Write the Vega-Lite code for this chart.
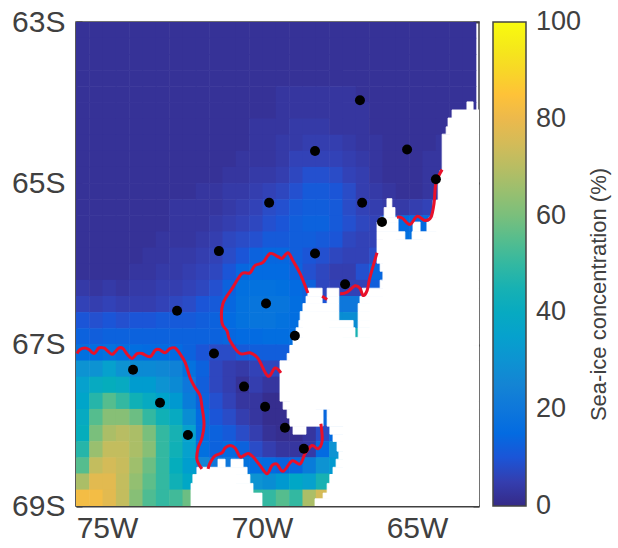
{"$schema":"https://vega.github.io/schema/vega-lite/v6.json","width":403,"height":484,"autosize":"none","padding":{"left":76,"top":22,"right":139,"bottom":42},"background":"white",
"config":{"font":"Liberation Sans","view":{"stroke":"#444444","strokeWidth":1.5},"axis":{"grid":false,"labelFont":"Liberation Sans","labelFontSize":30,"labelColor":"#404040","tickColor":"#404040","domainColor":"#404040","domainWidth":2,"tickWidth":2,"zindex":1}},
"resolve":{"axis":{"x":"independent","y":"independent"},"scale":{"x":"shared","y":"shared"}},
"layer":[
{"data":{"values":[
{"x":-75.78,"y":-63.1,"v":2},{"x":-75.35,"y":-63.1,"v":2},{"x":-74.92,"y":-63.1,"v":2},{"x":-74.49,"y":-63.1,"v":2},{"x":-74.06,"y":-63.1,"v":2},{"x":-73.63,"y":-63.1,"v":2},{"x":-73.2,"y":-63.1,"v":2},{"x":-72.77,"y":-63.1,"v":2},{"x":-72.34,"y":-63.1,"v":2},{"x":-71.91,"y":-63.1,"v":2},{"x":-71.48,"y":-63.1,"v":2},{"x":-71.05,"y":-63.1,"v":2},{"x":-70.62,"y":-63.1,"v":2},{"x":-70.19,"y":-63.1,"v":2},{"x":-69.76,"y":-63.1,"v":2},{"x":-69.33,"y":-63.1,"v":2},{"x":-68.9,"y":-63.1,"v":2},{"x":-68.47,"y":-63.1,"v":2},{"x":-68.04,"y":-63.1,"v":2},{"x":-67.61,"y":-63.1,"v":2},{"x":-67.18,"y":-63.1,"v":2},{"x":-66.75,"y":-63.1,"v":2},{"x":-66.32,"y":-63.1,"v":2},{"x":-65.89,"y":-63.1,"v":2},{"x":-65.46,"y":-63.1,"v":2},{"x":-65.03,"y":-63.1,"v":2},{"x":-64.6,"y":-63.1,"v":2},{"x":-64.17,"y":-63.1,"v":2},{"x":-63.74,"y":-63.1,"v":2},{"x":-63.31,"y":-63.1,"v":2},
{"x":-75.78,"y":-63.3,"v":2},{"x":-75.35,"y":-63.3,"v":2},{"x":-74.92,"y":-63.3,"v":2},{"x":-74.49,"y":-63.3,"v":2},{"x":-74.06,"y":-63.3,"v":2},{"x":-73.63,"y":-63.3,"v":2},{"x":-73.2,"y":-63.3,"v":2},{"x":-72.77,"y":-63.3,"v":2},{"x":-72.34,"y":-63.3,"v":2},{"x":-71.91,"y":-63.3,"v":2},{"x":-71.48,"y":-63.3,"v":2},{"x":-71.05,"y":-63.3,"v":2},{"x":-70.62,"y":-63.3,"v":2},{"x":-70.19,"y":-63.3,"v":2},{"x":-69.76,"y":-63.3,"v":2},{"x":-69.33,"y":-63.3,"v":2},{"x":-68.9,"y":-63.3,"v":2},{"x":-68.47,"y":-63.3,"v":2},{"x":-68.04,"y":-63.3,"v":2},{"x":-67.61,"y":-63.3,"v":2},{"x":-67.18,"y":-63.3,"v":2},{"x":-66.75,"y":-63.3,"v":2},{"x":-66.32,"y":-63.3,"v":2},{"x":-65.89,"y":-63.3,"v":2},{"x":-65.46,"y":-63.3,"v":2},{"x":-65.03,"y":-63.3,"v":2},{"x":-64.6,"y":-63.3,"v":2},{"x":-64.17,"y":-63.3,"v":2},{"x":-63.74,"y":-63.3,"v":2},{"x":-63.31,"y":-63.3,"v":2},
{"x":-75.78,"y":-63.5,"v":2},{"x":-75.35,"y":-63.5,"v":2},{"x":-74.92,"y":-63.5,"v":2},{"x":-74.49,"y":-63.5,"v":2},{"x":-74.06,"y":-63.5,"v":2},{"x":-73.63,"y":-63.5,"v":2},{"x":-73.2,"y":-63.5,"v":2},{"x":-72.77,"y":-63.5,"v":2},{"x":-72.34,"y":-63.5,"v":2},{"x":-71.91,"y":-63.5,"v":2},{"x":-71.48,"y":-63.5,"v":2},{"x":-71.05,"y":-63.5,"v":2},{"x":-70.62,"y":-63.5,"v":2},{"x":-70.19,"y":-63.5,"v":2},{"x":-69.76,"y":-63.5,"v":2},{"x":-69.33,"y":-63.5,"v":2},{"x":-68.9,"y":-63.5,"v":2},{"x":-68.47,"y":-63.5,"v":2},{"x":-68.04,"y":-63.5,"v":2},{"x":-67.61,"y":-63.5,"v":2},{"x":-67.18,"y":-63.5,"v":2},{"x":-66.75,"y":-63.5,"v":2},{"x":-66.32,"y":-63.5,"v":2},{"x":-65.89,"y":-63.5,"v":2},{"x":-65.46,"y":-63.5,"v":2},{"x":-65.03,"y":-63.5,"v":2},{"x":-64.6,"y":-63.5,"v":2},{"x":-64.17,"y":-63.5,"v":2},{"x":-63.74,"y":-63.5,"v":2},{"x":-63.31,"y":-63.5,"v":2},
{"x":-75.78,"y":-63.7,"v":2},{"x":-75.35,"y":-63.7,"v":2},{"x":-74.92,"y":-63.7,"v":2},{"x":-74.49,"y":-63.7,"v":2},{"x":-74.06,"y":-63.7,"v":2},{"x":-73.63,"y":-63.7,"v":2},{"x":-73.2,"y":-63.7,"v":2},{"x":-72.77,"y":-63.7,"v":2},{"x":-72.34,"y":-63.7,"v":2},{"x":-71.91,"y":-63.7,"v":2},{"x":-71.48,"y":-63.7,"v":2},{"x":-71.05,"y":-63.7,"v":2},{"x":-70.62,"y":-63.7,"v":2},{"x":-70.19,"y":-63.7,"v":2},{"x":-69.76,"y":-63.7,"v":2},{"x":-69.33,"y":-63.7,"v":2},{"x":-68.9,"y":-63.7,"v":2},{"x":-68.47,"y":-63.7,"v":2},{"x":-68.04,"y":-63.7,"v":2},{"x":-67.61,"y":-63.7,"v":2},{"x":-67.18,"y":-63.7,"v":2},{"x":-66.75,"y":-63.7,"v":2},{"x":-66.32,"y":-63.7,"v":2},{"x":-65.89,"y":-63.7,"v":2},{"x":-65.46,"y":-63.7,"v":2},{"x":-65.03,"y":-63.7,"v":2},{"x":-64.6,"y":-63.7,"v":2},{"x":-64.17,"y":-63.7,"v":2},{"x":-63.74,"y":-63.7,"v":2},{"x":-63.31,"y":-63.7,"v":2},
{"x":-75.78,"y":-63.9,"v":2},{"x":-75.35,"y":-63.9,"v":2},{"x":-74.92,"y":-63.9,"v":2},{"x":-74.49,"y":-63.9,"v":2},{"x":-74.06,"y":-63.9,"v":2},{"x":-73.63,"y":-63.9,"v":2},{"x":-73.2,"y":-63.9,"v":2},{"x":-72.77,"y":-63.9,"v":2},{"x":-72.34,"y":-63.9,"v":2},{"x":-71.91,"y":-63.9,"v":2},{"x":-71.48,"y":-63.9,"v":2},{"x":-71.05,"y":-63.9,"v":2},{"x":-70.62,"y":-63.9,"v":2},{"x":-70.19,"y":-63.9,"v":2},{"x":-69.76,"y":-63.9,"v":2},{"x":-69.33,"y":-63.9,"v":3},{"x":-68.9,"y":-63.9,"v":3},{"x":-68.47,"y":-63.9,"v":3},{"x":-68.04,"y":-63.9,"v":3},{"x":-67.61,"y":-63.9,"v":3},{"x":-67.18,"y":-63.9,"v":3},{"x":-66.75,"y":-63.9,"v":2},{"x":-66.32,"y":-63.9,"v":2},{"x":-65.89,"y":-63.9,"v":2},{"x":-65.46,"y":-63.9,"v":2},{"x":-65.03,"y":-63.9,"v":2},{"x":-64.6,"y":-63.9,"v":2},{"x":-64.17,"y":-63.9,"v":2},{"x":-63.74,"y":-63.9,"v":2},{"x":-63.31,"y":-63.9,"v":2},
{"x":-75.78,"y":-64.1,"v":2},{"x":-75.35,"y":-64.1,"v":2},{"x":-74.92,"y":-64.1,"v":2},{"x":-74.49,"y":-64.1,"v":2},{"x":-74.06,"y":-64.1,"v":2},{"x":-73.63,"y":-64.1,"v":2},{"x":-73.2,"y":-64.1,"v":2},{"x":-72.77,"y":-64.1,"v":2},{"x":-72.34,"y":-64.1,"v":2},{"x":-71.91,"y":-64.1,"v":2},{"x":-71.48,"y":-64.1,"v":2},{"x":-71.05,"y":-64.1,"v":2},{"x":-70.62,"y":-64.1,"v":2},{"x":-70.19,"y":-64.1,"v":2},{"x":-69.76,"y":-64.1,"v":2},{"x":-69.33,"y":-64.1,"v":3},{"x":-68.9,"y":-64.1,"v":3},{"x":-68.47,"y":-64.1,"v":3},{"x":-68.04,"y":-64.1,"v":3},{"x":-67.61,"y":-64.1,"v":3},{"x":-67.18,"y":-64.1,"v":3},{"x":-66.75,"y":-64.1,"v":3},{"x":-66.32,"y":-64.1,"v":2},{"x":-65.89,"y":-64.1,"v":2},{"x":-65.46,"y":-64.1,"v":2},{"x":-65.03,"y":-64.1,"v":2},{"x":-64.6,"y":-64.1,"v":2},{"x":-64.17,"y":-64.1,"v":2},{"x":-63.74,"y":-64.1,"v":2},{"x":-63.31,"y":-64.1,"v":2},
{"x":-75.78,"y":-64.3,"v":2},{"x":-75.35,"y":-64.3,"v":2},{"x":-74.92,"y":-64.3,"v":2},{"x":-74.49,"y":-64.3,"v":2},{"x":-74.06,"y":-64.3,"v":2},{"x":-73.63,"y":-64.3,"v":2},{"x":-73.2,"y":-64.3,"v":2},{"x":-72.77,"y":-64.3,"v":2},{"x":-72.34,"y":-64.3,"v":2},{"x":-71.91,"y":-64.3,"v":2},{"x":-71.48,"y":-64.3,"v":2},{"x":-71.05,"y":-64.3,"v":2},{"x":-70.62,"y":-64.3,"v":2},{"x":-70.19,"y":-64.3,"v":3},{"x":-69.76,"y":-64.3,"v":3},{"x":-69.33,"y":-64.3,"v":3},{"x":-68.9,"y":-64.3,"v":4},{"x":-68.47,"y":-64.3,"v":4},{"x":-68.04,"y":-64.3,"v":4},{"x":-67.61,"y":-64.3,"v":3},{"x":-67.18,"y":-64.3,"v":3},{"x":-66.75,"y":-64.3,"v":3},{"x":-66.32,"y":-64.3,"v":2},{"x":-65.89,"y":-64.3,"v":2},{"x":-65.46,"y":-64.3,"v":2},{"x":-65.03,"y":-64.3,"v":2},{"x":-64.6,"y":-64.3,"v":2},{"x":-64.17,"y":-64.3,"v":2},
{"x":-75.78,"y":-64.5,"v":2},{"x":-75.35,"y":-64.5,"v":2},{"x":-74.92,"y":-64.5,"v":2},{"x":-74.49,"y":-64.5,"v":2},{"x":-74.06,"y":-64.5,"v":2},{"x":-73.63,"y":-64.5,"v":2},{"x":-73.2,"y":-64.5,"v":2},{"x":-72.77,"y":-64.5,"v":2},{"x":-72.34,"y":-64.5,"v":2},{"x":-71.91,"y":-64.5,"v":2},{"x":-71.48,"y":-64.5,"v":2},{"x":-71.05,"y":-64.5,"v":2},{"x":-70.62,"y":-64.5,"v":2},{"x":-70.19,"y":-64.5,"v":3},{"x":-69.76,"y":-64.5,"v":3},{"x":-69.33,"y":-64.5,"v":4},{"x":-68.9,"y":-64.5,"v":4},{"x":-68.47,"y":-64.5,"v":5},{"x":-68.04,"y":-64.5,"v":5},{"x":-67.61,"y":-64.5,"v":5},{"x":-67.18,"y":-64.5,"v":4},{"x":-66.75,"y":-64.5,"v":3},{"x":-66.32,"y":-64.5,"v":3},{"x":-65.89,"y":-64.5,"v":2},{"x":-65.46,"y":-64.5,"v":2},{"x":-65.03,"y":-64.5,"v":2},{"x":-64.6,"y":-64.5,"v":2},{"x":-64.17,"y":-64.5,"v":3},
{"x":-75.78,"y":-64.7,"v":2},{"x":-75.35,"y":-64.7,"v":2},{"x":-74.92,"y":-64.7,"v":2},{"x":-74.49,"y":-64.7,"v":2},{"x":-74.06,"y":-64.7,"v":2},{"x":-73.63,"y":-64.7,"v":2},{"x":-73.2,"y":-64.7,"v":2},{"x":-72.77,"y":-64.7,"v":2},{"x":-72.34,"y":-64.7,"v":2},{"x":-71.91,"y":-64.7,"v":2},{"x":-71.48,"y":-64.7,"v":2},{"x":-71.05,"y":-64.7,"v":2},{"x":-70.62,"y":-64.7,"v":3},{"x":-70.19,"y":-64.7,"v":3},{"x":-69.76,"y":-64.7,"v":3},{"x":-69.33,"y":-64.7,"v":4},{"x":-68.9,"y":-64.7,"v":6},{"x":-68.47,"y":-64.7,"v":6},{"x":-68.04,"y":-64.7,"v":6},{"x":-67.61,"y":-64.7,"v":6},{"x":-67.18,"y":-64.7,"v":5},{"x":-66.75,"y":-64.7,"v":4},{"x":-66.32,"y":-64.7,"v":3},{"x":-65.89,"y":-64.7,"v":2},{"x":-65.46,"y":-64.7,"v":2},{"x":-65.03,"y":-64.7,"v":2},{"x":-64.6,"y":-64.7,"v":3},{"x":-64.17,"y":-64.7,"v":3},
{"x":-75.78,"y":-64.9,"v":2},{"x":-75.35,"y":-64.9,"v":2},{"x":-74.92,"y":-64.9,"v":2},{"x":-74.49,"y":-64.9,"v":2},{"x":-74.06,"y":-64.9,"v":2},{"x":-73.63,"y":-64.9,"v":2},{"x":-73.2,"y":-64.9,"v":2},{"x":-72.77,"y":-64.9,"v":2},{"x":-72.34,"y":-64.9,"v":2},{"x":-71.91,"y":-64.9,"v":2},{"x":-71.48,"y":-64.9,"v":2},{"x":-71.05,"y":-64.9,"v":3},{"x":-70.62,"y":-64.9,"v":3},{"x":-70.19,"y":-64.9,"v":4},{"x":-69.76,"y":-64.9,"v":4},{"x":-69.33,"y":-64.9,"v":5},{"x":-68.9,"y":-64.9,"v":7},{"x":-68.47,"y":-64.9,"v":9},{"x":-68.04,"y":-64.9,"v":9},{"x":-67.61,"y":-64.9,"v":8},{"x":-67.18,"y":-64.9,"v":6},{"x":-66.75,"y":-64.9,"v":5},{"x":-66.32,"y":-64.9,"v":3},{"x":-65.89,"y":-64.9,"v":2},{"x":-65.46,"y":-64.9,"v":2},{"x":-65.03,"y":-64.9,"v":2},{"x":-64.6,"y":-64.9,"v":3},{"x":-64.17,"y":-64.9,"v":3},
{"x":-75.78,"y":-65.1,"v":2},{"x":-75.35,"y":-65.1,"v":2},{"x":-74.92,"y":-65.1,"v":2},{"x":-74.49,"y":-65.1,"v":2},{"x":-74.06,"y":-65.1,"v":2},{"x":-73.63,"y":-65.1,"v":2},{"x":-73.2,"y":-65.1,"v":2},{"x":-72.77,"y":-65.1,"v":2},{"x":-72.34,"y":-65.1,"v":2},{"x":-71.91,"y":-65.1,"v":3},{"x":-71.48,"y":-65.1,"v":3},{"x":-71.05,"y":-65.1,"v":4},{"x":-70.62,"y":-65.1,"v":4},{"x":-70.19,"y":-65.1,"v":5},{"x":-69.76,"y":-65.1,"v":6},{"x":-69.33,"y":-65.1,"v":7},{"x":-68.9,"y":-65.1,"v":9},{"x":-68.47,"y":-65.1,"v":11},{"x":-68.04,"y":-65.1,"v":11},{"x":-67.61,"y":-65.1,"v":10},{"x":-67.18,"y":-65.1,"v":8},{"x":-66.75,"y":-65.1,"v":5},{"x":-66.32,"y":-65.1,"v":4},{"x":-65.89,"y":-65.1,"v":3},{"x":-65.46,"y":-65.1,"v":2},{"x":-65.03,"y":-65.1,"v":2},{"x":-64.6,"y":-65.1,"v":3},{"x":-64.17,"y":-65.1,"v":4},
{"x":-75.78,"y":-65.3,"v":2},{"x":-75.35,"y":-65.3,"v":2},{"x":-74.92,"y":-65.3,"v":2},{"x":-74.49,"y":-65.3,"v":2},{"x":-74.06,"y":-65.3,"v":2},{"x":-73.63,"y":-65.3,"v":2},{"x":-73.2,"y":-65.3,"v":2},{"x":-72.77,"y":-65.3,"v":3},{"x":-72.34,"y":-65.3,"v":3},{"x":-71.91,"y":-65.3,"v":3},{"x":-71.48,"y":-65.3,"v":3},{"x":-71.05,"y":-65.3,"v":4},{"x":-70.62,"y":-65.3,"v":5},{"x":-70.19,"y":-65.3,"v":6},{"x":-69.76,"y":-65.3,"v":8},{"x":-69.33,"y":-65.3,"v":9},{"x":-68.9,"y":-65.3,"v":11},{"x":-68.47,"y":-65.3,"v":12},{"x":-68.04,"y":-65.3,"v":12},{"x":-67.61,"y":-65.3,"v":11},{"x":-67.18,"y":-65.3,"v":8},{"x":-66.75,"y":-65.3,"v":6},{"x":-66.32,"y":-65.3,"v":5},{"x":-65.89,"y":-65.3,"v":4},{"x":-65.46,"y":-65.3,"v":4},{"x":-65.03,"y":-65.3,"v":5},{"x":-64.6,"y":-65.3,"v":6},
{"x":-75.78,"y":-65.5,"v":2},{"x":-75.35,"y":-65.5,"v":2},{"x":-74.92,"y":-65.5,"v":2},{"x":-74.49,"y":-65.5,"v":2},{"x":-74.06,"y":-65.5,"v":2},{"x":-73.63,"y":-65.5,"v":2},{"x":-73.2,"y":-65.5,"v":2},{"x":-72.77,"y":-65.5,"v":3},{"x":-72.34,"y":-65.5,"v":3},{"x":-71.91,"y":-65.5,"v":3},{"x":-71.48,"y":-65.5,"v":4},{"x":-71.05,"y":-65.5,"v":5},{"x":-70.62,"y":-65.5,"v":6},{"x":-70.19,"y":-65.5,"v":7},{"x":-69.76,"y":-65.5,"v":9},{"x":-69.33,"y":-65.5,"v":10},{"x":-68.9,"y":-65.5,"v":12},{"x":-68.47,"y":-65.5,"v":13},{"x":-68.04,"y":-65.5,"v":13},{"x":-67.61,"y":-65.5,"v":11},{"x":-67.18,"y":-65.5,"v":9},{"x":-66.75,"y":-65.5,"v":7},{"x":-66.32,"y":-65.5,"v":6},{"x":-65.89,"y":-65.5,"v":15},{"x":-65.46,"y":-65.5,"v":15},{"x":-65.03,"y":-65.5,"v":15},{"x":-64.6,"y":-65.5,"v":15},
{"x":-75.78,"y":-65.7,"v":2},{"x":-75.35,"y":-65.7,"v":2},{"x":-74.92,"y":-65.7,"v":2},{"x":-74.49,"y":-65.7,"v":2},{"x":-74.06,"y":-65.7,"v":2},{"x":-73.63,"y":-65.7,"v":2},{"x":-73.2,"y":-65.7,"v":3},{"x":-72.77,"y":-65.7,"v":3},{"x":-72.34,"y":-65.7,"v":3},{"x":-71.91,"y":-65.7,"v":4},{"x":-71.48,"y":-65.7,"v":5},{"x":-71.05,"y":-65.7,"v":7},{"x":-70.62,"y":-65.7,"v":8},{"x":-70.19,"y":-65.7,"v":9},{"x":-69.76,"y":-65.7,"v":11},{"x":-69.33,"y":-65.7,"v":11},{"x":-68.9,"y":-65.7,"v":12},{"x":-68.47,"y":-65.7,"v":12},{"x":-68.04,"y":-65.7,"v":11},{"x":-67.61,"y":-65.7,"v":10},{"x":-67.18,"y":-65.7,"v":7},{"x":-66.75,"y":-65.7,"v":6},{"x":-66.32,"y":-65.7,"v":6},{"x":-65.46,"y":-65.7,"v":17},{"x":-65.03,"y":-65.7,"v":17},
{"x":-75.78,"y":-65.9,"v":2},{"x":-75.35,"y":-65.9,"v":2},{"x":-74.92,"y":-65.9,"v":2},{"x":-74.49,"y":-65.9,"v":2},{"x":-74.06,"y":-65.9,"v":2},{"x":-73.63,"y":-65.9,"v":3},{"x":-73.2,"y":-65.9,"v":3},{"x":-72.77,"y":-65.9,"v":4},{"x":-72.34,"y":-65.9,"v":4},{"x":-71.91,"y":-65.9,"v":5},{"x":-71.48,"y":-65.9,"v":6},{"x":-71.05,"y":-65.9,"v":8},{"x":-70.62,"y":-65.9,"v":10},{"x":-70.19,"y":-65.9,"v":13},{"x":-69.76,"y":-65.9,"v":14},{"x":-69.33,"y":-65.9,"v":14},{"x":-68.9,"y":-65.9,"v":12},{"x":-68.47,"y":-65.9,"v":10},{"x":-68.04,"y":-65.9,"v":9},{"x":-67.61,"y":-65.9,"v":7},{"x":-67.18,"y":-65.9,"v":6},{"x":-66.75,"y":-65.9,"v":6},{"x":-66.32,"y":-65.9,"v":8},
{"x":-75.78,"y":-66.1,"v":2},{"x":-75.35,"y":-66.1,"v":2},{"x":-74.92,"y":-66.1,"v":2},{"x":-74.49,"y":-66.1,"v":2},{"x":-74.06,"y":-66.1,"v":3},{"x":-73.63,"y":-66.1,"v":3},{"x":-73.2,"y":-66.1,"v":4},{"x":-72.77,"y":-66.1,"v":4},{"x":-72.34,"y":-66.1,"v":5},{"x":-71.91,"y":-66.1,"v":6},{"x":-71.48,"y":-66.1,"v":7},{"x":-71.05,"y":-66.1,"v":10},{"x":-70.62,"y":-66.1,"v":14},{"x":-70.19,"y":-66.1,"v":15},{"x":-69.76,"y":-66.1,"v":15},{"x":-69.33,"y":-66.1,"v":15},{"x":-68.9,"y":-66.1,"v":13},{"x":-68.47,"y":-66.1,"v":9},{"x":-68.04,"y":-66.1,"v":7},{"x":-67.61,"y":-66.1,"v":5},{"x":-67.18,"y":-66.1,"v":5},{"x":-66.75,"y":-66.1,"v":9},{"x":-66.32,"y":-66.1,"v":14},
{"x":-75.78,"y":-66.3,"v":4},{"x":-75.35,"y":-66.3,"v":3},{"x":-74.92,"y":-66.3,"v":4},{"x":-74.49,"y":-66.3,"v":3},{"x":-74.06,"y":-66.3,"v":4},{"x":-73.63,"y":-66.3,"v":4},{"x":-73.2,"y":-66.3,"v":5},{"x":-72.77,"y":-66.3,"v":5},{"x":-72.34,"y":-66.3,"v":6},{"x":-71.91,"y":-66.3,"v":7},{"x":-71.48,"y":-66.3,"v":9},{"x":-71.05,"y":-66.3,"v":13},{"x":-70.62,"y":-66.3,"v":17},{"x":-70.19,"y":-66.3,"v":18},{"x":-69.76,"y":-66.3,"v":18},{"x":-69.33,"y":-66.3,"v":17},{"x":-68.9,"y":-66.3,"v":15},{"x":-68.47,"y":-66.3,"v":13},{"x":-68.04,"y":-66.3,"v":7},{"x":-67.61,"y":-66.3,"v":6},{"x":-67.18,"y":-66.3,"v":6},{"x":-66.75,"y":-66.3,"v":6},{"x":-66.32,"y":-66.3,"v":12},
{"x":-75.78,"y":-66.5,"v":6},{"x":-75.35,"y":-66.5,"v":5},{"x":-74.92,"y":-66.5,"v":6},{"x":-74.49,"y":-66.5,"v":5},{"x":-74.06,"y":-66.5,"v":5},{"x":-73.63,"y":-66.5,"v":5},{"x":-73.2,"y":-66.5,"v":6},{"x":-72.77,"y":-66.5,"v":7},{"x":-72.34,"y":-66.5,"v":8},{"x":-71.91,"y":-66.5,"v":10},{"x":-71.48,"y":-66.5,"v":11},{"x":-71.05,"y":-66.5,"v":14},{"x":-70.62,"y":-66.5,"v":18},{"x":-70.19,"y":-66.5,"v":19},{"x":-69.76,"y":-66.5,"v":19},{"x":-69.33,"y":-66.5,"v":19},{"x":-68.9,"y":-66.5,"v":16},{"x":-68.47,"y":-66.5,"v":14},{"x":-68.04,"y":-66.5,"v":10},{"x":-67.61,"y":-66.5,"v":20},{"x":-67.18,"y":-66.5,"v":20},{"x":-66.75,"y":-66.5,"v":20},
{"x":-75.78,"y":-66.7,"v":10},{"x":-75.35,"y":-66.7,"v":9},{"x":-74.92,"y":-66.7,"v":10},{"x":-74.49,"y":-66.7,"v":9},{"x":-74.06,"y":-66.7,"v":10},{"x":-73.63,"y":-66.7,"v":10},{"x":-73.2,"y":-66.7,"v":11},{"x":-72.77,"y":-66.7,"v":11},{"x":-72.34,"y":-66.7,"v":11},{"x":-71.91,"y":-66.7,"v":12},{"x":-71.48,"y":-66.7,"v":13},{"x":-71.05,"y":-66.7,"v":15},{"x":-70.62,"y":-66.7,"v":18},{"x":-70.19,"y":-66.7,"v":19},{"x":-69.76,"y":-66.7,"v":19},{"x":-69.33,"y":-66.7,"v":18},{"x":-68.9,"y":-66.7,"v":16},{"x":-67.61,"y":-66.7,"v":28},{"x":-67.18,"y":-66.7,"v":28},{"x":-66.75,"y":-66.7,"v":28},
{"x":-75.78,"y":-66.9,"v":13},{"x":-75.35,"y":-66.9,"v":12},{"x":-74.92,"y":-66.9,"v":13},{"x":-74.49,"y":-66.9,"v":13},{"x":-74.06,"y":-66.9,"v":13},{"x":-73.63,"y":-66.9,"v":13},{"x":-73.2,"y":-66.9,"v":13},{"x":-72.77,"y":-66.9,"v":13},{"x":-72.34,"y":-66.9,"v":13},{"x":-71.91,"y":-66.9,"v":13},{"x":-71.48,"y":-66.9,"v":13},{"x":-71.05,"y":-66.9,"v":14},{"x":-70.62,"y":-66.9,"v":15},{"x":-70.19,"y":-66.9,"v":15},{"x":-69.76,"y":-66.9,"v":16},{"x":-69.33,"y":-66.9,"v":16},{"x":-68.9,"y":-66.9,"v":16},{"x":-67.18,"y":-66.9,"v":45},{"x":-66.75,"y":-66.9,"v":45},
{"x":-75.78,"y":-67.1,"v":17},{"x":-75.35,"y":-67.1,"v":16},{"x":-74.92,"y":-67.1,"v":18},{"x":-74.49,"y":-67.1,"v":16},{"x":-74.06,"y":-67.1,"v":16},{"x":-73.63,"y":-67.1,"v":15},{"x":-73.2,"y":-67.1,"v":15},{"x":-72.77,"y":-67.1,"v":15},{"x":-72.34,"y":-67.1,"v":13},{"x":-71.91,"y":-67.1,"v":10},{"x":-71.48,"y":-67.1,"v":8},{"x":-71.05,"y":-67.1,"v":8},{"x":-70.62,"y":-67.1,"v":11},{"x":-70.19,"y":-67.1,"v":12},{"x":-69.76,"y":-67.1,"v":12},{"x":-69.33,"y":-67.1,"v":12},
{"x":-75.78,"y":-67.3,"v":30},{"x":-75.35,"y":-67.3,"v":30},{"x":-74.92,"y":-67.3,"v":35},{"x":-74.49,"y":-67.3,"v":30},{"x":-74.06,"y":-67.3,"v":27},{"x":-73.63,"y":-67.3,"v":27},{"x":-73.2,"y":-67.3,"v":26},{"x":-72.77,"y":-67.3,"v":24},{"x":-72.34,"y":-67.3,"v":18},{"x":-71.91,"y":-67.3,"v":13},{"x":-71.48,"y":-67.3,"v":7},{"x":-71.05,"y":-67.3,"v":5},{"x":-70.62,"y":-67.3,"v":4},{"x":-70.19,"y":-67.3,"v":6},{"x":-69.76,"y":-67.3,"v":7},{"x":-69.33,"y":-67.3,"v":7},
{"x":-75.78,"y":-67.5,"v":35},{"x":-75.35,"y":-67.5,"v":40},{"x":-74.92,"y":-67.5,"v":42},{"x":-74.49,"y":-67.5,"v":40},{"x":-74.06,"y":-67.5,"v":33},{"x":-73.63,"y":-67.5,"v":33},{"x":-73.2,"y":-67.5,"v":30},{"x":-72.77,"y":-67.5,"v":27},{"x":-72.34,"y":-67.5,"v":20},{"x":-71.91,"y":-67.5,"v":12},{"x":-71.48,"y":-67.5,"v":7},{"x":-71.05,"y":-67.5,"v":5},{"x":-70.62,"y":-67.5,"v":2},{"x":-70.19,"y":-67.5,"v":5},{"x":-69.76,"y":-67.5,"v":3},{"x":-69.33,"y":-67.5,"v":3},
{"x":-75.78,"y":-67.7,"v":37},{"x":-75.35,"y":-67.7,"v":48},{"x":-74.92,"y":-67.7,"v":55},{"x":-74.49,"y":-67.7,"v":50},{"x":-74.06,"y":-67.7,"v":44},{"x":-73.63,"y":-67.7,"v":40},{"x":-73.2,"y":-67.7,"v":36},{"x":-72.77,"y":-67.7,"v":32},{"x":-72.34,"y":-67.7,"v":22},{"x":-71.91,"y":-67.7,"v":13},{"x":-71.48,"y":-67.7,"v":9},{"x":-71.05,"y":-67.7,"v":6},{"x":-70.62,"y":-67.7,"v":3},{"x":-70.19,"y":-67.7,"v":3},{"x":-69.76,"y":-67.7,"v":1},{"x":-69.33,"y":-67.7,"v":1},
{"x":-75.78,"y":-67.9,"v":40},{"x":-75.35,"y":-67.9,"v":55},{"x":-74.92,"y":-67.9,"v":62},{"x":-74.49,"y":-67.9,"v":62},{"x":-74.06,"y":-67.9,"v":58},{"x":-73.63,"y":-67.9,"v":50},{"x":-73.2,"y":-67.9,"v":44},{"x":-72.77,"y":-67.9,"v":40},{"x":-72.34,"y":-67.9,"v":28},{"x":-71.91,"y":-67.9,"v":15},{"x":-71.48,"y":-67.9,"v":10},{"x":-71.05,"y":-67.9,"v":8},{"x":-70.62,"y":-67.9,"v":5},{"x":-70.19,"y":-67.9,"v":3},{"x":-69.76,"y":-67.9,"v":1},{"x":-69.33,"y":-67.9,"v":1},{"x":-68.04,"y":-67.9,"v":14},
{"x":-75.78,"y":-68.1,"v":42},{"x":-75.35,"y":-68.1,"v":60},{"x":-74.92,"y":-68.1,"v":68},{"x":-74.49,"y":-68.1,"v":70},{"x":-74.06,"y":-68.1,"v":68},{"x":-73.63,"y":-68.1,"v":60},{"x":-73.2,"y":-68.1,"v":50},{"x":-72.77,"y":-68.1,"v":45},{"x":-72.34,"y":-68.1,"v":35},{"x":-71.91,"y":-68.1,"v":15},{"x":-71.48,"y":-68.1,"v":13},{"x":-71.05,"y":-68.1,"v":11},{"x":-70.62,"y":-68.1,"v":8},{"x":-70.19,"y":-68.1,"v":5},{"x":-69.76,"y":-68.1,"v":2},{"x":-69.33,"y":-68.1,"v":1},{"x":-68.9,"y":-68.1,"v":1},{"x":-68.47,"y":-68.1,"v":3},{"x":-68.04,"y":-68.1,"v":8},{"x":-67.61,"y":-68.1,"v":15},
{"x":-75.78,"y":-68.3,"v":48},{"x":-75.35,"y":-68.3,"v":65},{"x":-74.92,"y":-68.3,"v":72},{"x":-74.49,"y":-68.3,"v":72},{"x":-74.06,"y":-68.3,"v":68},{"x":-73.63,"y":-68.3,"v":62},{"x":-73.2,"y":-68.3,"v":50},{"x":-72.77,"y":-68.3,"v":44},{"x":-72.34,"y":-68.3,"v":35},{"x":-71.91,"y":-68.3,"v":17},{"x":-71.48,"y":-68.3,"v":13},{"x":-71.05,"y":-68.3,"v":15},{"x":-70.62,"y":-68.3,"v":13},{"x":-70.19,"y":-68.3,"v":8},{"x":-69.76,"y":-68.3,"v":5},{"x":-69.33,"y":-68.3,"v":3},{"x":-68.9,"y":-68.3,"v":3},{"x":-68.47,"y":-68.3,"v":4},{"x":-68.04,"y":-68.3,"v":15},{"x":-67.61,"y":-68.3,"v":30},
{"x":-75.78,"y":-68.5,"v":55},{"x":-75.35,"y":-68.5,"v":72},{"x":-74.92,"y":-68.5,"v":75},{"x":-74.49,"y":-68.5,"v":73},{"x":-74.06,"y":-68.5,"v":66},{"x":-73.63,"y":-68.5,"v":58},{"x":-73.2,"y":-68.5,"v":50},{"x":-72.77,"y":-68.5,"v":42},{"x":-72.34,"y":-68.5,"v":34},{"x":-71.91,"y":-68.5,"v":25},{"x":-71.48,"y":-68.5,"v":20},{"x":-71.05,"y":-68.5,"v":20},{"x":-70.62,"y":-68.5,"v":18},{"x":-70.19,"y":-68.5,"v":16},{"x":-69.76,"y":-68.5,"v":15},{"x":-69.33,"y":-68.5,"v":13},{"x":-68.9,"y":-68.5,"v":14},{"x":-68.47,"y":-68.5,"v":22},{"x":-68.04,"y":-68.5,"v":30},{"x":-67.61,"y":-68.5,"v":32},
{"x":-75.78,"y":-68.7,"v":68},{"x":-75.35,"y":-68.7,"v":78},{"x":-74.92,"y":-68.7,"v":78},{"x":-74.49,"y":-68.7,"v":72},{"x":-74.06,"y":-68.7,"v":64},{"x":-73.63,"y":-68.7,"v":56},{"x":-73.2,"y":-68.7,"v":50},{"x":-72.77,"y":-68.7,"v":44},{"x":-72.34,"y":-68.7,"v":38},{"x":-70.62,"y":-68.7,"v":30},{"x":-70.19,"y":-68.7,"v":30},{"x":-69.76,"y":-68.7,"v":28},{"x":-69.33,"y":-68.7,"v":32},{"x":-68.9,"y":-68.7,"v":38},{"x":-68.47,"y":-68.7,"v":35},{"x":-68.04,"y":-68.7,"v":45},
{"x":-75.78,"y":-68.9,"v":82},{"x":-75.35,"y":-68.9,"v":82},{"x":-74.92,"y":-68.9,"v":78},{"x":-74.49,"y":-68.9,"v":72},{"x":-74.06,"y":-68.9,"v":62},{"x":-73.63,"y":-68.9,"v":54},{"x":-73.2,"y":-68.9,"v":50},{"x":-72.77,"y":-68.9,"v":52},{"x":-72.34,"y":-68.9,"v":58},{"x":-70.19,"y":-68.9,"v":50},{"x":-69.76,"y":-68.9,"v":50},{"x":-69.33,"y":-68.9,"v":55},{"x":-68.9,"y":-68.9,"v":50},{"x":-68.47,"y":-68.9,"v":68},{"x":-68.04,"y":-68.9,"v":75}
]},
"mark":{"type":"rect","width":13.9,"height":16.7,"clip":true},
"encoding":{
"x":{"field":"x","type":"quantitative","scale":{"domain":[-76,-63],"nice":false,"zero":false},"axis":{"values":[-75,-70,-65],"tickSize":-6,"labelExpr":"abs(datum.value)+'W'","title":null,"labelPadding":13,"labelFlush":false}},
"y":{"field":"y","type":"quantitative","scale":{"domain":[-69,-63],"nice":false,"zero":false},"axis":{"values":[-63,-65,-67,-69],"tickSize":-6,"labelExpr":"abs(datum.value)+'S'","title":null,"labelPadding":17,"labelFlush":false}},
"color":{"field":"v","type":"quantitative","scale":{"domain":[0,5,10,15,20,25,30,35,40,45,50,55,60,65,70,75,80,85,90,95,100],"range":["#352A87","#343EAF","#1B55D7","#036BE1","#0E77DB","#1484D4","#0D93D2","#06A1CD","#07AAC1","#17B1B3","#33B8A1","#55BD8E","#7ABF7C","#99BF6F","#B8BD63","#D4BB58","#ECB94C","#FEC238","#F8D727","#F5EA19","#F9FB0E"]},"legend":{"orient":"none","legendX":417,"legendY":0,"title":null,"direction":"vertical","type":"gradient","gradientLength":484,"gradientThickness":33,"gradientStrokeColor":"#444444","gradientStrokeWidth":1.5,"values":[0.01,20,40,60,80,99.99],"format":".0f","labelFontSize":27,"labelFont":"Liberation Sans","labelColor":"#404040","labelOffset":10,"labelOverlap":false,"labelBaseline":"middle"}}
}},
{"data":{"values":[
{"w":-63.39,"e":-63.19,"n":-63.99,"s":-64.09},{"w":-63.87,"e":-63,"n":-64.09,"s":-64.19},{"w":-64,"e":-63,"n":-64.19,"s":-64.3},{"w":-64.06,"e":-63,"n":-64.3,"s":-64.39},{"w":-64.19,"e":-63,"n":-64.39,"s":-64.84},{"w":-64.26,"e":-63,"n":-64.84,"s":-64.94},{"w":-64.32,"e":-63,"n":-64.94,"s":-65.21},{"w":-64.48,"e":-63,"n":-65.21,"s":-65.42},{"w":-64.61,"e":-63,"n":-65.42,"s":-65.48},
{"w":-65.97,"e":-65.81,"n":-65.19,"s":-65.3},{"w":-66.06,"e":-65.71,"n":-65.3,"s":-65.42},{"w":-66.19,"e":-65.61,"n":-65.42,"s":-65.48},
{"w":-66.29,"e":-65.61,"n":-65.48,"s":-65.6},{"w":-65.13,"e":-64.9,"n":-65.48,"s":-65.6},{"w":-64.68,"e":-63,"n":-65.48,"s":-65.6},
{"w":-66.29,"e":-65.39,"n":-65.6,"s":-65.7},{"w":-65.16,"e":-63,"n":-65.6,"s":-65.7},
{"w":-66.29,"e":-63,"n":-65.7,"s":-65.99},{"w":-66.19,"e":-63,"n":-65.99,"s":-66.09},{"w":-66.1,"e":-63,"n":-66.09,"s":-66.2},{"w":-66.19,"e":-63,"n":-66.2,"s":-66.3},
{"w":-68.52,"e":-68.06,"n":-66.3,"s":-66.4},{"w":-67.9,"e":-67.52,"n":-66.3,"s":-66.4},{"w":-66.77,"e":-63,"n":-66.3,"s":-66.4},
{"w":-68.58,"e":-68.06,"n":-66.4,"s":-66.49},{"w":-67.9,"e":-67.52,"n":-66.4,"s":-66.49},{"w":-66.84,"e":-63,"n":-66.4,"s":-66.49},
{"w":-68.68,"e":-67.52,"n":-66.49,"s":-66.59},{"w":-66.9,"e":-63,"n":-66.49,"s":-66.59},
{"w":-68.77,"e":-67.52,"n":-66.59,"s":-66.7},{"w":-66.9,"e":-63,"n":-66.59,"s":-66.7},
{"w":-68.81,"e":-67.06,"n":-66.7,"s":-66.79},{"w":-66.9,"e":-63,"n":-66.7,"s":-66.79},
{"w":-68.9,"e":-67,"n":-66.79,"s":-66.91},{"w":-66.9,"e":-63,"n":-66.79,"s":-66.91},
{"w":-69,"e":-63,"n":-66.91,"s":-67.01},{"w":-69.1,"e":-63,"n":-67.01,"s":-67.11},{"w":-69.19,"e":-63,"n":-67.11,"s":-67.2},{"w":-69.42,"e":-63,"n":-67.2,"s":-67.7},{"w":-69.32,"e":-63,"n":-67.7,"s":-67.8},
{"w":-69.19,"e":-68.03,"n":-67.8,"s":-67.91},{"w":-67.9,"e":-63,"n":-67.8,"s":-67.91},{"w":-69.1,"e":-68.03,"n":-67.91,"s":-68.01},{"w":-67.9,"e":-63,"n":-67.91,"s":-68.01},
{"w":-69,"e":-68.58,"n":-68.01,"s":-68.11},{"w":-67.81,"e":-63,"n":-68.01,"s":-68.11},
{"w":-67.71,"e":-63,"n":-68.11,"s":-68.2},{"w":-67.58,"e":-63,"n":-68.2,"s":-68.32},{"w":-67.52,"e":-63,"n":-68.32,"s":-68.42},{"w":-67.61,"e":-63,"n":-68.42,"s":-68.52},{"w":-67.71,"e":-63,"n":-68.52,"s":-68.61},{"w":-67.81,"e":-63,"n":-68.61,"s":-68.72},{"w":-67.9,"e":-63,"n":-68.72,"s":-68.84},{"w":-68.03,"e":-63,"n":-68.84,"s":-68.91},{"w":-68.29,"e":-63,"n":-68.91,"s":-69},
{"w":-71.42,"e":-71.19,"n":-68.42,"s":-68.52},{"w":-71,"e":-70.61,"n":-68.42,"s":-68.52},{"w":-72.1,"e":-70.48,"n":-68.52,"s":-68.61},{"w":-72.23,"e":-70.39,"n":-68.61,"s":-68.72},{"w":-72.29,"e":-70.29,"n":-68.72,"s":-68.84},{"w":-72.29,"e":-70,"n":-68.84,"s":-69}
]},
"mark":{"type":"rect","fill":"white","stroke":"white","strokeWidth":0.8,"clip":true},
"encoding":{
"x":{"field":"w","type":"quantitative","scale":{"domain":[-76,-63],"nice":false,"zero":false},"axis":{"orient":"top","values":[-75,-70,-65],"tickSize":-6,"labels":false,"domain":false,"title":null}},
"x2":{"field":"e"},
"y":{"field":"n","type":"quantitative","scale":{"domain":[-69,-63],"nice":false,"zero":false},"axis":{"orient":"right","values":[-63,-65,-67,-69],"tickSize":-6,"labels":false,"domain":false,"title":"Sea-ice concentration (%)","titleFontSize":22,"titleFont":"Liberation Sans","titleFontWeight":"normal","titleColor":"#404040","titleAngle":-90,"titleX":119,"titleY":272,"titleAlign":"center","titleBaseline":"middle"}},
"y2":{"field":"s"}
}},
{"data":{"values":[
{"s":"a","i":0,"lon":-75.97,"lat":-67.11},{"s":"a","i":1,"lon":-75.87,"lat":-67.06},{"s":"a","i":2,"lon":-75.71,"lat":-67.04},{"s":"a","i":3,"lon":-75.58,"lat":-67.06},{"s":"a","i":4,"lon":-75.42,"lat":-67.11},{"s":"a","i":5,"lon":-75.26,"lat":-67.04},{"s":"a","i":6,"lon":-75.1,"lat":-67.04},{"s":"a","i":7,"lon":-75,"lat":-67.07},{"s":"a","i":8,"lon":-74.84,"lat":-67.12},{"s":"a","i":9,"lon":-74.74,"lat":-67.09},{"s":"a","i":10,"lon":-74.61,"lat":-67.04},{"s":"a","i":11,"lon":-74.48,"lat":-67.05},{"s":"a","i":12,"lon":-74.35,"lat":-67.12},{"s":"a","i":13,"lon":-74.19,"lat":-67.17},{"s":"a","i":14,"lon":-74.03,"lat":-67.11},{"s":"a","i":15,"lon":-73.87,"lat":-67.11},{"s":"a","i":16,"lon":-73.61,"lat":-67.15},{"s":"a","i":17,"lon":-73.45,"lat":-67.07},{"s":"a","i":18,"lon":-73.32,"lat":-67.06},{"s":"a","i":19,"lon":-73.13,"lat":-67.1},{"s":"a","i":20,"lon":-72.97,"lat":-67.05},{"s":"a","i":21,"lon":-72.81,"lat":-67.04},{"s":"a","i":22,"lon":-72.65,"lat":-67.11},{"s":"a","i":23,"lon":-72.48,"lat":-67.22},{"s":"a","i":24,"lon":-72.32,"lat":-67.41},{"s":"a","i":25,"lon":-72.16,"lat":-67.53},{"s":"a","i":26,"lon":-72,"lat":-67.63},{"s":"a","i":27,"lon":-71.94,"lat":-67.76},{"s":"a","i":28,"lon":-71.87,"lat":-67.98},{"s":"a","i":29,"lon":-71.94,"lat":-68.16},{"s":"a","i":30,"lon":-72.06,"lat":-68.28},{"s":"a","i":31,"lon":-72.1,"lat":-68.42},{"s":"a","i":32,"lon":-71.94,"lat":-68.54},
{"s":"b","i":0,"lon":-71.74,"lat":-68.54},{"s":"b","i":1,"lon":-71.68,"lat":-68.47},{"s":"b","i":2,"lon":-71.52,"lat":-68.38},{"s":"b","i":3,"lon":-71.29,"lat":-68.34},{"s":"b","i":4,"lon":-71.19,"lat":-68.28},{"s":"b","i":5,"lon":-71.03,"lat":-68.25},{"s":"b","i":6,"lon":-70.87,"lat":-68.28},{"s":"b","i":7,"lon":-70.71,"lat":-68.39},{"s":"b","i":8,"lon":-70.61,"lat":-68.38},{"s":"b","i":9,"lon":-70.45,"lat":-68.35},{"s":"b","i":10,"lon":-70.29,"lat":-68.39},{"s":"b","i":11,"lon":-70.06,"lat":-68.5},{"s":"b","i":12,"lon":-69.84,"lat":-68.6},{"s":"b","i":13,"lon":-69.68,"lat":-68.5},{"s":"b","i":14,"lon":-69.52,"lat":-68.48},{"s":"b","i":15,"lon":-69.32,"lat":-68.57},{"s":"b","i":16,"lon":-69.03,"lat":-68.44},{"s":"b","i":17,"lon":-68.77,"lat":-68.48},{"s":"b","i":18,"lon":-68.61,"lat":-68.35},{"s":"b","i":19,"lon":-68.39,"lat":-68.25},{"s":"b","i":20,"lon":-68.19,"lat":-68.29},{"s":"b","i":21,"lon":-68.06,"lat":-68.19},{"s":"b","i":22,"lon":-68.1,"lat":-67.98},
{"s":"c","i":0,"lon":-69.39,"lat":-67.35},{"s":"c","i":1,"lon":-69.58,"lat":-67.29},{"s":"c","i":2,"lon":-69.81,"lat":-67.39},{"s":"c","i":3,"lon":-70.13,"lat":-67.17},{"s":"c","i":4,"lon":-70.39,"lat":-67.1},{"s":"c","i":5,"lon":-70.71,"lat":-67.11},{"s":"c","i":6,"lon":-71.03,"lat":-66.95},{"s":"c","i":7,"lon":-71.13,"lat":-66.83},{"s":"c","i":8,"lon":-71.29,"lat":-66.73},{"s":"c","i":9,"lon":-71.26,"lat":-66.49},{"s":"c","i":10,"lon":-70.94,"lat":-66.29},{"s":"c","i":11,"lon":-70.65,"lat":-66.12},{"s":"c","i":12,"lon":-70.39,"lat":-66.11},{"s":"c","i":13,"lon":-70.23,"lat":-66.02},{"s":"c","i":14,"lon":-69.97,"lat":-65.98},{"s":"c","i":15,"lon":-69.74,"lat":-65.87},{"s":"c","i":16,"lon":-69.48,"lat":-65.91},{"s":"c","i":17,"lon":-69.35,"lat":-65.93},{"s":"c","i":18,"lon":-69.16,"lat":-65.86},{"s":"c","i":19,"lon":-69,"lat":-65.96},{"s":"c","i":20,"lon":-68.77,"lat":-66.12},{"s":"c","i":21,"lon":-68.52,"lat":-66.36},
{"s":"d","i":0,"lon":-68.06,"lat":-66.4},{"s":"d","i":1,"lon":-67.9,"lat":-66.44},
{"s":"e","i":0,"lon":-67.48,"lat":-66.37},{"s":"e","i":1,"lon":-67.26,"lat":-66.35},{"s":"e","i":2,"lon":-67,"lat":-66.27},{"s":"e","i":3,"lon":-66.84,"lat":-66.3},{"s":"e","i":4,"lon":-66.74,"lat":-66.39},{"s":"e","i":5,"lon":-66.61,"lat":-66.33},{"s":"e","i":6,"lon":-66.52,"lat":-66.17},{"s":"e","i":7,"lon":-66.29,"lat":-65.86},
{"s":"f","i":0,"lon":-65.65,"lat":-65.42},{"s":"f","i":1,"lon":-65.48,"lat":-65.43},{"s":"f","i":2,"lon":-65.23,"lat":-65.51},{"s":"f","i":3,"lon":-65,"lat":-65.41},{"s":"f","i":4,"lon":-64.74,"lat":-65.46},{"s":"f","i":5,"lon":-64.55,"lat":-65.42},{"s":"f","i":6,"lon":-64.45,"lat":-65.25},{"s":"f","i":7,"lon":-64.39,"lat":-65},{"s":"f","i":8,"lon":-64.19,"lat":-64.83}
]},
"mark":{"type":"line","color":"#e8102a","strokeWidth":3,"interpolate":"cardinal","clip":true},
"encoding":{
"x":{"field":"lon","type":"quantitative","scale":{"domain":[-76,-63],"nice":false,"zero":false},"axis":null},
"y":{"field":"lat","type":"quantitative","scale":{"domain":[-69,-63],"nice":false,"zero":false},"axis":null},
"detail":{"field":"s"},"order":{"field":"i","type":"quantitative"}
}},
{"data":{"values":[
{"lon":-66.84,"lat":-63.97},{"lon":-65.32,"lat":-64.58},{"lon":-68.29,"lat":-64.6},{"lon":-64.39,"lat":-64.95},{"lon":-69.77,"lat":-65.24},{"lon":-66.77,"lat":-65.24},{"lon":-66.13,"lat":-65.48},{"lon":-71.39,"lat":-65.84},{"lon":-68.29,"lat":-65.87},{"lon":-67.32,"lat":-66.25},{"lon":-72.74,"lat":-66.58},{"lon":-69.87,"lat":-66.49},{"lon":-68.94,"lat":-66.89},{"lon":-71.55,"lat":-67.11},{"lon":-74.16,"lat":-67.31},{"lon":-70.58,"lat":-67.52},{"lon":-73.29,"lat":-67.72},{"lon":-69.9,"lat":-67.77},{"lon":-69.26,"lat":-68.03},{"lon":-72.39,"lat":-68.12},{"lon":-68.65,"lat":-68.29}
]},
"mark":{"type":"circle","color":"black","opacity":1,"size":100},
"encoding":{
"x":{"field":"lon","type":"quantitative","scale":{"domain":[-76,-63],"nice":false,"zero":false},"axis":null},
"y":{"field":"lat","type":"quantitative","scale":{"domain":[-69,-63],"nice":false,"zero":false},"axis":null}
}}
]}
